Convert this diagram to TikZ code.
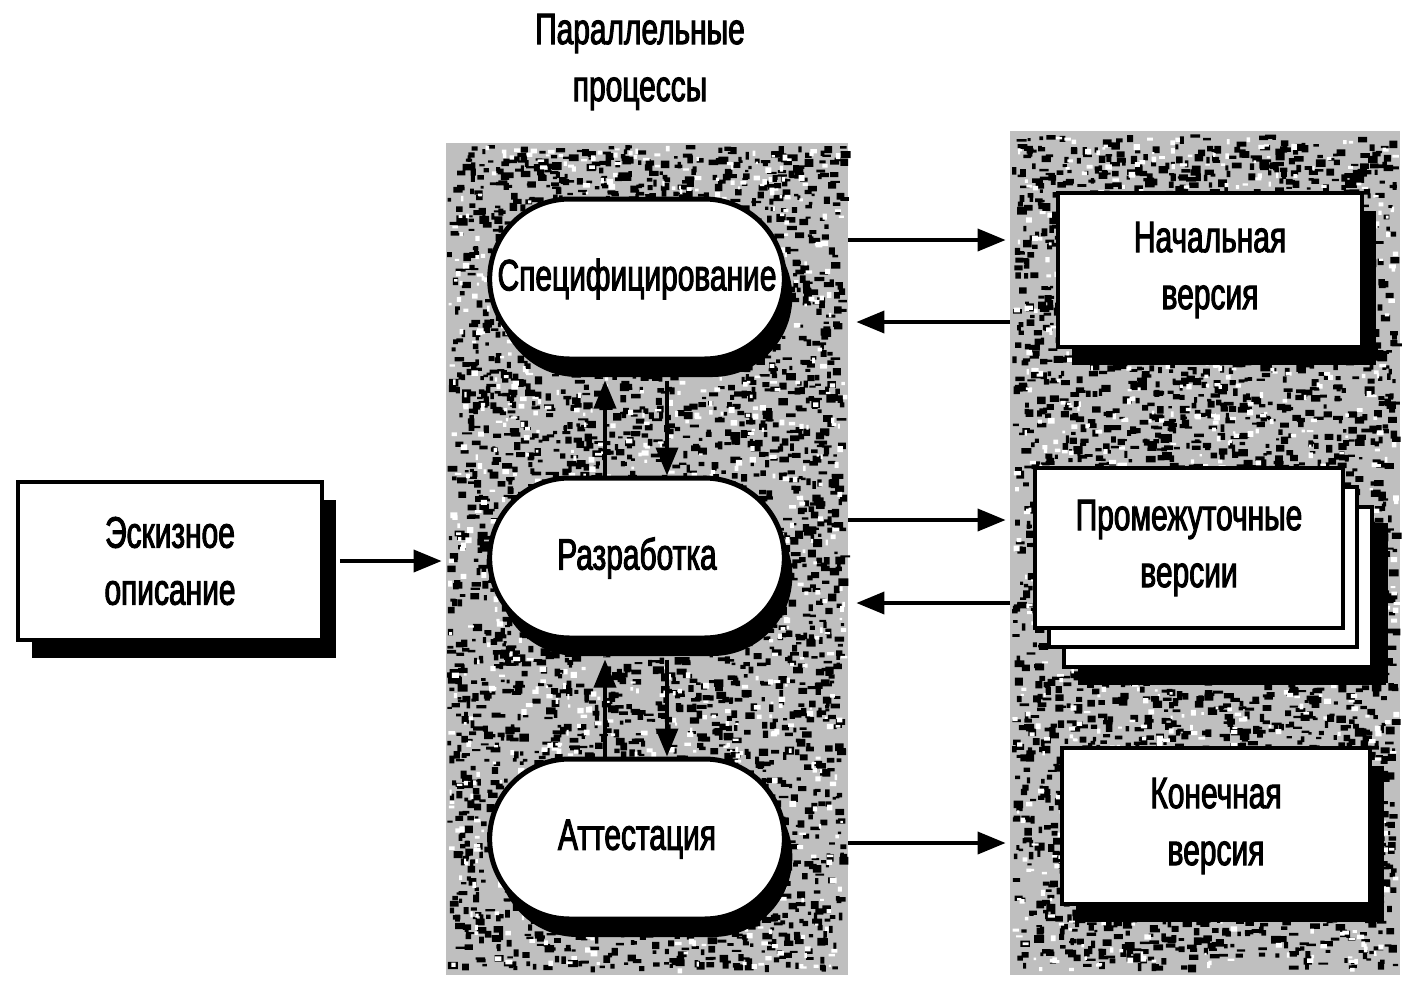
\documentclass[tikz,border=0pt]{standalone}
\usepackage{fontspec}
\setmainfont{Liberation Sans}[FakeStretch=0.68,FakeBold=2.2]
\usetikzlibrary{shapes.misc,shadows,arrows.meta,calc}
\begin{document}
\begin{tikzpicture}[x=0.5pt,y=-0.5pt,
  lbl/.style={font=\fontsize{22}{28.5}\selectfont, align=center, text=black},
  pill/.style={rounded rectangle, draw=black, line width=2.5pt, fill=white,
    minimum width=154pt, minimum height=80pt, lbl,
    drop shadow={shadow xshift=4pt, shadow yshift=-9pt, fill=black, opacity=1}},
  box/.style={rectangle, draw=black, line width=1.8pt, fill=white,
    minimum width=153pt, minimum height=78pt, lbl,
    drop shadow={shadow xshift=7pt, shadow yshift=-9pt, fill=black, opacity=1}},
  plainbox/.style={rectangle, draw=black, line width=1.8pt, fill=white,
    minimum width=154pt, minimum height=80pt, lbl},
  arr/.style={line width=1.9pt, -{Triangle[length=14pt,width=11pt]}},
  panel/.style={rectangle, fill=gray!50, inner sep=0pt, draw=none}]
\useasboundingbox[fill=white] (0,0) rectangle (1405,981);

% panels
\node[panel, minimum width=201pt, minimum height=416pt] (mid) at (647,559) {};
\node[panel, minimum width=195pt, minimum height=422pt] (rgt) at (1205,553) {};
\pgfmathsetseed{7}
\fill[black] foreach \i in {1,...,3300}{ ({447+394*rnd},{145+822*rnd}) rectangle ++({3+7*rnd},{2+6*rnd}) };
\fill[black] foreach \i in {1,...,3300}{ ({1012+381*rnd},{134+832*rnd}) rectangle ++({3+7*rnd},{2+6*rnd}) };
\fill[white] foreach \i in {1,...,1000}{ ({447+396*rnd},{145+824*rnd}) rectangle ++({2+5*rnd},{2+4*rnd}) };
\fill[white] foreach \i in {1,...,1000}{ ({1012+383*rnd},{134+834*rnd}) rectangle ++({2+5*rnd},{2+4*rnd}) };

% title
\node[lbl] (title) at (640,62) {Параллельные\\процессы};

% left box
\node[box, minimum width=152pt, minimum height=79pt] (esk) at (170,561) {Эскизное\\описание};

% process pills
\node[pill] (spec) at (637,279) {Специфицирование};
\node[pill] (razr) at (637,558) {Разработка};
\node[pill] (att) at (637,839) {Аттестация};

% version boxes
\node[box, minimum width=152pt, minimum height=77pt] (nach) at (1210,270) {Начальная\\версия};
\node[box, minimum width=154pt, minimum height=80pt,
  drop shadow={shadow xshift=8pt, shadow yshift=-8pt, fill=black, opacity=1}] (p3) at (1218,587) {};
\node[plainbox] (p2) at (1203,567) {};
\node[plainbox] (prom) at (1189,548) {Промежуточные\\версии};
\node[box, minimum width=154pt, minimum height=78pt] (kon) at (1216,826) {Конечная\\версия};

% arrows
\draw[arr] ($(esk.east)+(16,0)$) -- ($(mid.west |- esk.east)+(-4,0)$);

\draw[arr] (razr.north -| 605,0) -- ($(spec.south -| 605,0)+(0,19)$);
\draw[arr] ($(spec.south -| 667,0)+(0,19)$) -- (razr.north -| 667,0);
\draw[arr] (att.north -| 605,0) -- ($(razr.south -| 605,0)+(0,19)$);
\draw[arr] ($(razr.south -| 667,0)+(0,19)$) -- (att.north -| 667,0);

\draw[arr] (mid.east |- 0,240) -- ($(rgt.west |- 0,240)+(-4,0)$);
\draw[arr] (rgt.west |- 0,322) -- ($(mid.east |- 0,322)+(8,0)$);
\draw[arr] (mid.east |- 0,520) -- ($(rgt.west |- 0,520)+(-4,0)$);
\draw[arr] (rgt.west |- 0,603) -- ($(mid.east |- 0,603)+(8,0)$);
\draw[arr] (mid.east |- 0,843) -- ($(rgt.west |- 0,843)+(-4,0)$);
\end{tikzpicture}
\end{document}
